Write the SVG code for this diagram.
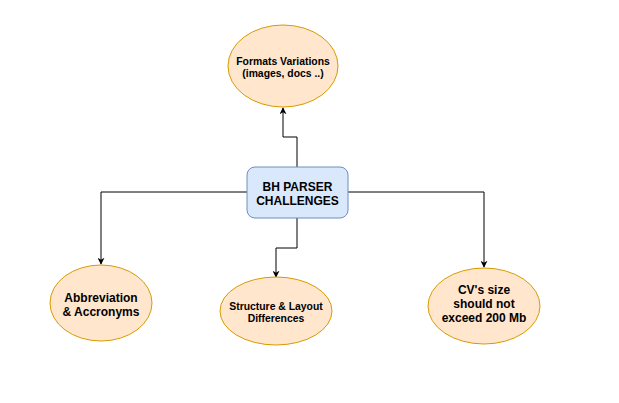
<svg xmlns="http://www.w3.org/2000/svg" width="619" height="403" viewBox="0 0 619 403">
<style>
.ell{fill:#ffe6cc;stroke:#d79b00;stroke-width:1}
.box{fill:#dae8fc;stroke:#6c8ebf;stroke-width:1}
.t{font-family:"Liberation Sans",Arial,sans-serif;font-weight:bold;fill:#000;text-anchor:middle}
.s{font-size:10.4px}
.l{font-size:12px}
.c{fill:none;stroke:#000;stroke-width:1}
</style>
<defs>
<marker id="ah" viewBox="0 0 10 10" refX="9" refY="5" markerWidth="7" markerHeight="7" markerUnits="userSpaceOnUse" orient="auto">
<path d="M0,0 L10,5 L0,10 L3,5 Z" fill="#000"/>
</marker>
</defs>
<rect width="619" height="403" fill="#fff"/>
<g id="connectors">
<path class="c" d="M297,167 V137 H283 V108" marker-end="url(#ah)"/>
<path class="c" d="M247,192 H101 V264" marker-end="url(#ah)"/>
<path class="c" d="M297,218 V248 H276 V277" marker-end="url(#ah)"/>
<path class="c" d="M348,192 H484 V267" marker-end="url(#ah)"/>
</g>
<g id="formats">
<ellipse class="ell" cx="283" cy="66" rx="55" ry="41"/>
<text class="t s" x="283" y="64.5">Formats Variations</text>
<text class="t s" x="283" y="77">(images, docs ..)</text>
</g>
<g id="center">
<rect class="box" x="247" y="167" width="101" height="51" rx="8"/>
<text class="t l" x="297.5" y="190.5">BH PARSER</text>
<text class="t l" x="297.5" y="204.5">CHALLENGES</text>
</g>
<g id="abbrev">
<ellipse class="ell" cx="101" cy="303" rx="51" ry="38"/>
<text class="t l" x="101" y="301.5">Abbreviation</text>
<text class="t l" x="101" y="315.5">&amp; Accronyms</text>
</g>
<g id="structure">
<ellipse class="ell" cx="276" cy="311" rx="56" ry="34"/>
<text class="t s" x="276" y="309.5">Structure &amp; Layout</text>
<text class="t s" x="276" y="322">Differences</text>
</g>
<g id="cvsize">
<ellipse class="ell" cx="484" cy="306" rx="56" ry="38"/>
<text class="t l" x="484" y="293.5">CV's size</text>
<text class="t l" x="484" y="307.5">should not</text>
<text class="t l" x="484" y="321.5">exceed 200 Mb</text>
</g>
</svg>
